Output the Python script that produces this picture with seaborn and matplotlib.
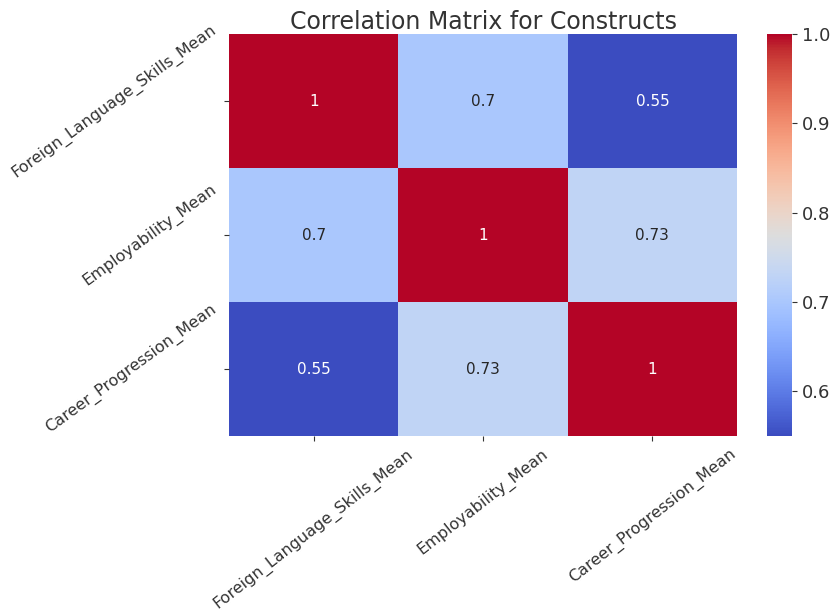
import numpy as np
import pandas as pd
import seaborn as sns
import matplotlib
matplotlib.use("Agg")
import matplotlib.pyplot as plt
from matplotlib.ticker import MultipleLocator, FormatStrFormatter

constructs = ["Foreign_Language_Skills_Mean", "Employability_Mean", "Career_Progression_Mean"]
row_foreign = [1.0, 0.70, 0.55]
row_employ = [0.70, 1.0, 0.73]
row_career = [0.55, 0.73, 1.0]

corr = pd.DataFrame([row_foreign, row_employ, row_career], index=constructs, columns=constructs)

fig = plt.figure(figsize=(8.31, 6.12), dpi=100)
ax = fig.add_axes([0.2756, 0.2876, 0.6114, 0.6565])
cax = fig.add_axes([0.923, 0.2876, 0.030, 0.6565])

sns.heatmap(corr, annot=True, cmap="coolwarm", ax=ax, cbar_ax=cax,
            annot_kws={"fontsize": 11})

ax.set_title("Correlation Matrix for Constructs", fontsize=17, color="#333333", pad=4)
for lab in ax.get_xticklabels():
    lab.set_rotation(38)
    lab.set_fontsize(11.5)
for lab in ax.get_yticklabels():
    lab.set_rotation(36)
    lab.set_fontsize(11.5)
ax.tick_params(axis="both", colors="#333333")

cax.yaxis.set_major_locator(MultipleLocator(0.1))
cax.yaxis.set_major_formatter(FormatStrFormatter("%.1f"))
cax.tick_params(labelsize=13, colors="#333333")

fig.savefig("out.png", dpi=100)
